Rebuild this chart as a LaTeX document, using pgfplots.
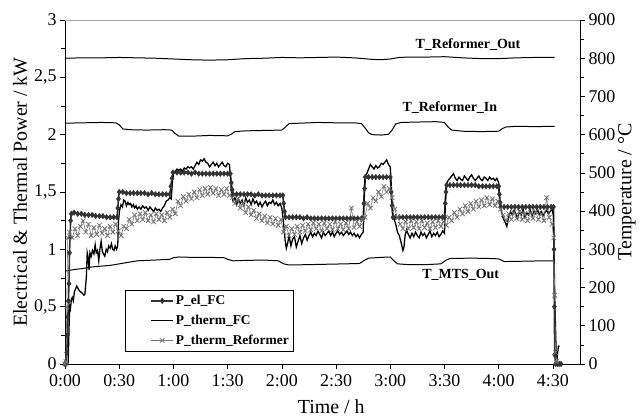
\documentclass[border=0pt]{standalone}
\usepackage{fontspec}
\setmainfont{Liberation Serif}
\usepackage{pgfplots}
\pgfplotsset{compat=1.18}

\begin{document}
\begin{tikzpicture}
\pgfplotsset{
  every axis/.append style={
    scale only axis, width=515bp, height=344bp,
    xmin=0, xmax=285,
    tick align=outside,
    major tick length=5bp, minor tick length=3.5bp,
    tick style={black, line width=0.6pt},
    axis line style={black, line width=0.9pt, -},
    /pgf/number format/assume math mode=true,
    tick label style={font=\fontsize{18}{20}\selectfont},
    label style={font=\fontsize{20}{23}\selectfont},
  },
}
% ---- temperatures, right axis
\begin{axis}[
  axis y line*=right, axis x line=none,
  ymin=0, ymax=900,
  ytick={0,100,...,900}, minor ytick={50,150,...,850},
  ylabel={Temperature / °C},
  ylabel style={at={(axis description cs:1.091,0.5)}, anchor=center},
]
% T_Reformer_Out
\addplot[black, line width=1pt] coordinates {
(0,800)(10,801)(20,801)(30,802)(40,801)(50,800)(60,798)(70,796)(80,795)(90,796)(100,799)(110,800)(120,802)
(130,801)(140,802)(150,803)(160,801)(170,797)(175,796)(180,798)(185,802)(190,803)(200,803)(210,804)(220,801)
(230,799)(240,799)(250,801)(260,802)(271,802)};
% T_Reformer_In
\addplot[black, line width=1pt] coordinates {
(0,630)(10,631)(20,632)(28,631)(30,626)(32,615)(36,613)(45,612)(55,613)(59,612)(61,603)(63,596)(70,596)
(80,598)(90,597)(92,601)(94,608)(100,610)(110,611)(120,612)(122,620)(124,629)(130,630)(140,632)(150,631)
(160,631)(164,629)(166,618)(168,605)(170,600)(175,599)(179,601)(181,612)(183,628)(186,632)(195,633)(205,634)
(210,632)(212,620)(214,612)(220,609)(230,608)(240,609)(242,616)(244,620)(250,622)(260,621)(271,622)};
% T_MTS_Out
\addplot[black, line width=1pt] coordinates {
(0,243)(5,247)(10,250)(15,254)(20,256)(25,258)(30,262)(35,266)(40,270)(50,272)(58,274)(60,278)(63,280)
(70,279)(80,279)(88,278)(90,274)(93,270)(100,271)(110,272)(118,270)(121,262)(124,259)(135,260)(145,261)
(155,262)(163,263)(166,272)(168,277)(175,279)(180,280)(182,270)(184,262)(190,260)(200,260)(208,262)(211,272)
(213,276)(225,277)(235,276)(240,275)(243,268)(255,269)(265,270)(271,270)};
\node[font=\fontsize{14}{16}\selectfont\bfseries] at (axis cs:223,837) {T\_Reformer\_Out};
\node[font=\fontsize{14}{16}\selectfont\bfseries] at (axis cs:213,670) {T\_Reformer\_In};
\node[font=\fontsize{14}{16}\selectfont\bfseries] at (axis cs:219,233) {T\_MTS\_Out};
\end{axis}

% ---- powers, left axis
\begin{axis}[
  axis y line*=left, axis x line*=bottom,
  clip=false,
  ymin=0, ymax=3,
  ytick={0,0.5,...,3}, minor ytick={0.25,0.75,...,2.75},
  yticklabel style={/pgf/number format/.cd, use comma, fixed},
  xticklabel style={yshift=-2bp},
  xtick={0,30,...,270},
  xticklabels={0:00,0:30,1:00,1:30,2:00,2:30,3:00,3:30,4:00,4:30},
  xlabel={Time / h},
  xlabel style={at={(axis description cs:0.517,-0.124)}, anchor=center},
  ylabel={Electrical \& Thermal Power / kW},
  ylabel style={at={(axis description cs:-0.087,0.5)}, anchor=center},
  legend style={at={(axis description cs:0.1165,0.215)}, anchor=north west,
    draw=black, line width=0.8pt, fill=white, inner sep=3bp, row sep=5bp,
    font=\fontsize{13.5}{15}\selectfont\bfseries, cells={anchor=west}},
  legend image code/.code={\path (-22bp,0bp);
    \draw[mark repeat=2,mark phase=2,#1] plot coordinates {(0bp,0bp) (11bp,0bp) (22bp,0bp)};},
]
% P_el_FC
\addplot[black!80, line width=1.6pt, mark=diamond*, mark size=2.8pt, mark options={line width=0.4pt}] coordinates {
(0,0)(0.5,0)(1,0.1)(1.3,0.25)(1.6,0.41)(1.9,0.55)(2.2,0.7)(2.5,0.97)(2.8,1.1)(3.1,1.25)(3.5,1.31)(5,1.32)
(7,1.31)(9,1.31)(11,1.30)(13,1.30)(15,1.30)(17,1.29)(19,1.29)(21,1.29)(23,1.28)(25,1.28)(27,1.28)(28.8,1.28)
(29.2,1.36)(29.6,1.44)(30,1.50)(32,1.50)(34,1.49)(36,1.49)(38,1.49)(40,1.49)(42,1.49)(44,1.49)(46,1.48)
(48,1.49)(50,1.48)(52,1.48)(54,1.48)(56,1.48)(58,1.48)(58.6,1.55)(59.2,1.62)(59.8,1.67)(62,1.67)(64,1.67)
(66,1.67)(68,1.67)(70,1.66)(72,1.67)(74,1.66)(76,1.66)(78,1.66)(80,1.66)(82,1.66)(84,1.66)(86,1.66)(88,1.66)
(90,1.66)(91.5,1.66)(92,1.58)(92.5,1.52)(93,1.48)(95,1.48)(97,1.48)(99,1.48)(101,1.48)(103,1.48)(105,1.47)
(107,1.48)(109,1.47)(111,1.47)(113,1.47)(115,1.47)(117,1.47)(119,1.47)(120.5,1.47)(121,1.40)(121.5,1.33)
(122,1.28)(124,1.28)(126,1.28)(128,1.28)(130,1.28)(132,1.27)(134,1.28)(136,1.27)(138,1.27)(140,1.27)
(142,1.27)(144,1.27)(146,1.27)(148,1.27)(150,1.27)(152,1.27)(154,1.27)(156,1.27)(158,1.27)(160,1.27)
(162,1.27)(164,1.27)(165,1.27)(165.4,1.40)(165.8,1.53)(166.2,1.63)(168,1.63)(170,1.63)(172,1.63)(174,1.63)
(176,1.63)(178,1.63)(180,1.63)(180.5,1.50)(181,1.38)(181.5,1.28)(183,1.28)(185,1.28)(187,1.28)(189,1.28)
(191,1.28)(193,1.28)(195,1.28)(197,1.28)(199,1.28)(201,1.28)(203,1.28)(205,1.28)(207,1.28)(209,1.28)
(210,1.28)(210.4,1.40)(210.8,1.50)(211.2,1.56)(213,1.56)(215,1.56)(217,1.56)(219,1.56)(221,1.56)(223,1.56)
(225,1.56)(227,1.56)(229,1.55)(231,1.55)(233,1.55)(235,1.55)(237,1.55)(239,1.55)(240,1.55)(240.4,1.48)
(240.8,1.41)(241.2,1.37)(243,1.37)(245,1.37)(247,1.37)(249,1.37)(251,1.37)(253,1.37)(255,1.37)(257,1.37)
(259,1.37)(261,1.37)(263,1.37)(265,1.37)(267,1.37)(269,1.37)(270.3,1.37)(270.6,1.0)(270.8,0.5)(271,0.08)
(271.5,0)(272.5,0)(273.5,0)(274.5,0)};
\addlegendentry{P\_el\_FC}
% P_therm_FC
\addplot[black, line width=1.3pt] coordinates {
(1.5,0)(1.8,0.02)(2.2,0.3)(2.6,0.5)(3,0.48)(3.5,0.56)(4,0.58)(4.6,0.55)(5.2,0.63)(6,0.66)(6.5,0.68)(7.5,0.65)
(8.5,0.63)(9.5,0.62)(10.5,0.60)(11,0.61)(11.8,0.75)(12.3,0.97)(12.8,0.93)(13.3,0.82)(13.8,0.97)(14.5,0.94)
(15.2,0.99)(16,0.96)(16.7,1.04)(17.3,0.97)(18,0.99)(18.7,0.90)(19.3,1.0)(20,1.07)(20.7,0.98)(21.3,0.96)
(22,0.94)(22.8,1.0)(23.5,0.98)(24.2,1.03)(25,1.01)(25.7,1.05)(26.4,1.0)(27.1,0.99)(27.8,1.03)(28.5,1.0)
(29.2,1.03)(29.6,1.25)(30.2,1.34)(31,1.39)(31.8,1.37)(32.5,1.43)(33.3,1.42)(34,1.38)(34.8,1.41)(35.5,1.39)
(36.3,1.40)(37,1.37)(37.8,1.39)(38.5,1.36)(39.3,1.38)(40,1.35)(41,1.37)(42,1.35)(43,1.38)(44,1.36)(45,1.37)
(46,1.34)(47,1.37)(48,1.35)(49,1.33)(50,1.36)(51,1.34)(52,1.35)(53,1.33)(54,1.36)(55,1.38)(56,1.42)(57,1.43)
(58,1.45)(58.8,1.44)(59.5,1.6)(60.2,1.67)(61,1.68)(62,1.70)(63,1.69)(64,1.70)(65,1.68)(66,1.71)(67,1.70)
(68,1.72)(69,1.71)(70,1.72)(71,1.70)(72,1.73)(73,1.76)(74,1.74)(75,1.78)(76,1.77)(77,1.79)(78,1.76)(79,1.75)
(80,1.72)(81,1.74)(82,1.76)(83,1.73)(84,1.75)(85,1.72)(86,1.74)(87,1.76)(88,1.73)(89,1.72)(90,1.75)(91,1.74)
(91.6,1.62)(92.2,1.48)(93,1.42)(94,1.45)(95,1.39)(96,1.44)(97,1.40)(98,1.43)(99,1.38)(100,1.45)(101,1.41)
(102,1.43)(103,1.39)(104,1.44)(105,1.40)(106,1.42)(107,1.38)(108,1.41)(109,1.37)(110,1.40)(111,1.42)
(112,1.38)(113,1.41)(114,1.40)(115,1.43)(116,1.39)(117,1.41)(118,1.38)(119,1.40)(120,1.36)(121,1.22)
(121.8,1.08)(122.5,1.01)(123.3,1.06)(124,1.12)(125,1.03)(126,1.09)(127,1.11)(128,1.02)(129,1.07)(130,1.12)
(131,1.05)(132,1.10)(133,1.13)(134,1.08)(135,1.12)(136,1.15)(137,1.11)(138,1.14)(139,1.12)(140,1.16)
(141,1.13)(142,1.10)(143,1.15)(144,1.12)(145,1.14)(146,1.16)(147,1.12)(148,1.15)(149,1.11)(150,1.14)
(151,1.16)(152,1.13)(153,1.15)(154,1.12)(155,1.14)(156,1.16)(157,1.13)(158,1.15)(159,1.12)(160,1.14)
(161,1.11)(162,1.13)(163,1.10)(164,1.13)(165,1.15)(165.5,1.45)(166,1.64)(167,1.66)(168,1.70)(169,1.74)
(170,1.72)(171,1.70)(172,1.73)(173,1.71)(174,1.72)(175,1.75)(176,1.74)(177,1.76)(178,1.78)(179,1.74)
(180,1.72)(180.6,1.55)(181.2,1.32)(182,1.27)(183,1.22)(184,1.15)(185,1.12)(186,1.06)(187,0.99)(187.6,1.02)
(188.2,1.12)(189,1.17)(190,1.13)(191,1.10)(192,1.14)(193,1.11)(194,1.15)(195,1.12)(196,1.10)(197,1.15)
(198,1.12)(199,1.14)(200,1.10)(201,1.13)(202,1.16)(203,1.11)(204,1.14)(205,1.12)(206,1.15)(207,1.11)
(208,1.13)(209,1.16)(210,1.14)(210.5,1.4)(211,1.57)(212,1.60)(213,1.62)(214,1.64)(215,1.66)(216,1.62)
(217,1.60)(218,1.63)(219,1.61)(220,1.60)(221,1.64)(222,1.62)(223,1.60)(224,1.63)(225,1.65)(226,1.62)
(227,1.60)(228,1.62)(229,1.64)(230,1.61)(231,1.60)(232,1.63)(233,1.62)(234,1.60)(235,1.63)(236,1.61)
(237,1.62)(238,1.60)(239,1.62)(240,1.58)(240.6,1.40)(241.5,1.33)(242.5,1.27)(243.5,1.24)(244.5,1.20)
(245.5,1.28)(246.5,1.33)(247.5,1.30)(248.5,1.34)(249.5,1.31)(250.5,1.27)(251.5,1.33)(252.5,1.30)(253.5,1.35)
(254.5,1.28)(255.5,1.32)(256.5,1.30)(257.5,1.34)(258.5,1.29)(259.5,1.33)(260.5,1.31)(261.5,1.35)(262.5,1.30)
(263.5,1.33)(264.5,1.29)(265.5,1.32)(266.5,1.34)(267.5,1.31)(268.5,1.33)(269.5,1.35)(270.3,1.3)(271,0.6)
(271.8,0.1)(272.3,0.05)(273,0.15)(273.6,0.16)};
\addlegendentry{P\_therm\_FC}
% P_therm_Reformer
\addplot[black!55, line width=0.6pt, mark=x, mark size=3.2pt, mark options={line width=0.8pt}] coordinates {
(0,0)(0.5,0.02)(1,0.5)(1.5,1.1)(2.5,1.15)(4,1.10)(5.5,1.18)(7,1.12)(8.5,1.20)(10,1.25)(11.5,1.15)(13,1.22)
(14.5,1.12)(16,1.19)(17.5,1.13)(19,1.21)(20.5,1.14)(22,1.18)(23.5,1.12)(25,1.2)(26.5,1.15)(28,1.22)(29.5,1.16)
(31,1.12)(32.5,1.2)(34,1.18)(35.5,1.26)(37,1.22)(38.5,1.3)(40,1.25)(41.5,1.31)(43,1.26)(44.5,1.32)(46,1.25)
(47.5,1.30)(49,1.24)(50.5,1.31)(52,1.26)(53.5,1.30)(55,1.25)(56.5,1.32)(58,1.28)(59.5,1.35)(61,1.31)
(62.5,1.42)(64,1.38)(65.5,1.46)(67,1.42)(68.5,1.48)(70,1.44)(71.5,1.5)(73,1.45)(74.5,1.52)(76,1.47)
(77.5,1.53)(79,1.48)(80.5,1.54)(82,1.49)(83.5,1.53)(85,1.47)(86.5,1.52)(88,1.48)(89.5,1.53)(91,1.47)
(92.5,1.45)(94,1.40)(95.5,1.44)(97,1.36)(98.5,1.40)(100,1.32)(101.5,1.37)(103,1.30)(104.5,1.34)(106,1.27)
(107.5,1.31)(109,1.25)(110.5,1.29)(112,1.23)(113.5,1.28)(115,1.22)(116.5,1.27)(118,1.21)(119.5,1.26)
(121,1.15)(122.5,1.20)(124,1.12)(125.5,1.18)(127,1.13)(128.5,1.20)(130,1.15)(131.5,1.21)(133,1.16)
(134.5,1.22)(136,1.17)(137.5,1.23)(139,1.18)(140.5,1.22)(142,1.16)(143.5,1.23)(145,1.18)(146.5,1.22)
(148,1.17)(149.5,1.24)(151,1.18)(152.5,1.22)(154,1.17)(155.5,1.23)(157,1.18)(158.5,1.36)(160,1.19)
(161.5,1.24)(163,1.2)(164.5,1.26)(166,1.28)(167.5,1.4)(169,1.36)(170.5,1.45)(172,1.42)(173.5,1.5)(175,1.46)
(176.5,1.55)(178,1.5)(179.5,1.53)(181,1.45)(182.5,1.35)(184,1.28)(185.5,1.22)(187,1.18)(188.5,1.24)
(190,1.18)(191.5,1.25)(193,1.19)(194.5,1.24)(196,1.18)(197.5,1.25)(199,1.19)(200.5,1.23)(202,1.18)
(203.5,1.24)(205,1.19)(206.5,1.25)(208,1.2)(209.5,1.24)(211,1.21)(212.5,1.28)(214,1.25)(215.5,1.32)
(217,1.28)(218.5,1.35)(220,1.31)(221.5,1.38)(223,1.33)(224.5,1.40)(226,1.35)(227.5,1.42)(229,1.37)
(230.5,1.43)(232,1.38)(233.5,1.45)(235,1.39)(236.5,1.44)(238,1.38)(239.5,1.42)(241,1.35)(242.5,1.30)
(244,1.25)(245.5,1.31)(247,1.26)(248.5,1.32)(250,1.27)(251.5,1.33)(253,1.26)(254.5,1.31)(256,1.25)
(257.5,1.32)(259,1.27)(260.5,1.33)(262,1.26)(263.5,1.31)(265,1.25)(266.5,1.45)(268,1.28)(269.5,1.22)
(270.5,1.1)(271,0.6)(271.5,0.1)(272,0.02)};
\addlegendentry{P\_therm\_Reformer}
\end{axis}
\draw[black!35, line width=0.8pt] (0bp,344bp) -- (515bp,344bp);
\pgfresetboundingbox
\path (-65bp,-54bp) rectangle (576bp,364bp);
\end{tikzpicture}
\end{document}
